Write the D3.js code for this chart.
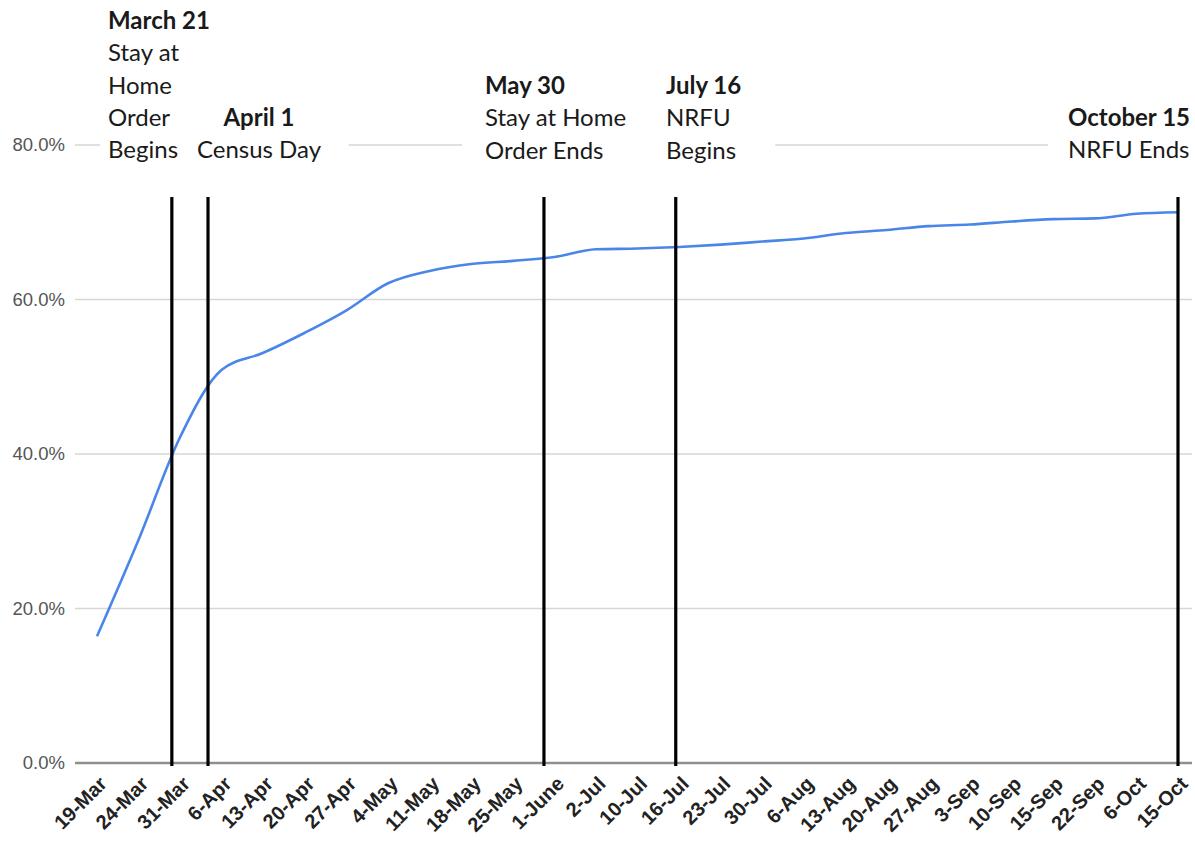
<!DOCTYPE html>
<html>
<head>
<meta charset="utf-8">
<script src="https://cdn.jsdelivr.net/npm/d3@7"></script>
<style>
body { margin: 0; background: #fff; }
</style>
</head>
<body>
<div id="chart"></div>
<script>
//////////////////////// Data ////////////////////////////

//Week labels along the x axis
var dates = ["19-Mar","24-Mar","31-Mar","6-Apr","13-Apr","20-Apr","27-Apr","4-May","11-May",
	"18-May","25-May","1-June","2-Jul","10-Jul","16-Jul","23-Jul","30-Jul","6-Aug","13-Aug",
	"20-Aug","27-Aug","3-Sep","10-Sep","15-Sep","22-Sep","6-Oct","15-Oct"];

//Self response rate (%)
var rate = [16.4, 28.9, 42.2, 50.9, 53.1, 55.7, 58.6, 62.1, 63.7,
	64.6, 65.0, 65.5, 66.5, 66.6, 66.8, 67.1, 67.5, 67.9, 68.6,
	69.0, 69.5, 69.7, 70.1, 70.4, 70.5, 71.1, 71.3];

var yTicks = [0, 20, 40, 60, 80];

//Key dates, placed in units of the x categories
var eventPos = [1.8, 2.67, 10.75, 13.92, 26];
var eventTitle = ["March 21", "April 1", "May 30", "July 16", "October 15"];
var eventText = [
	["Stay at", "Home", "Order", "Begins"],
	["Census Day"],
	["Stay at Home", "Order Ends"],
	["NRFU", "Begins"],
	["NRFU Ends"]
];

//////////////////////// Set-up ////////////////////////////

var width = 1195,
	height = 842;

var svg = d3.select("#chart").append("svg")
	.attr("width", width)
	.attr("height", height);

var x = d3.scaleLinear()
	.domain([0, dates.length - 1])
	.range([97, 1178]);

var y = d3.scaleLinear()
	.domain([0, 80])
	.range([763, 145]);

//Gridlines
svg.append("g").selectAll("line")
	.data(yTicks)
	.enter().append("line")
	.attr("x1", 75)
	.attr("x2", 1192)
	.attr("y1", function(d) { return y(d); })
	.attr("y2", function(d) { return y(d); })
	.style("stroke", function(d) { return d === 0 ? "#8f8f8f" : "#d6d6d6"; })
	.style("stroke-width", function(d) { return d === 0 ? 2.5 : 1.5; });

//Y axis labels
svg.append("g").selectAll("text")
	.data(yTicks)
	.enter().append("text")
	.attr("x", 65)
	.attr("y", function(d) { return y(d) + 6; })
	.attr("text-anchor", "end")
	.style("font-family", "Arial, 'Liberation Sans', sans-serif")
	.style("font-size", "18.5px")
	.style("fill", "#555")
	.text(function(d) { return d3.format(".1f")(d) + "%"; });

//X axis labels
svg.append("g").selectAll("text")
	.data(dates)
	.enter().append("text")
	.attr("transform", function(d, i) { return "translate(" + (x(i) + 11) + ",785) rotate(-45)"; })
	.attr("text-anchor", "end")
	.style("font-family", "Arial, 'Liberation Sans', sans-serif")
	.style("font-size", "20px")
	.style("font-weight", "bold")
	.style("fill", "#222")
	.text(function(d) { return d; });

//Response rate line
var line = d3.line()
	.x(function(d, i) { return x(i); })
	.y(function(d) { return y(d); })
	.curve(d3.curveMonotoneX);

svg.append("path")
	.datum(rate)
	.attr("d", line)
	.style("fill", "none")
	.style("stroke", "#4a86e8")
	.style("stroke-width", 2.6);

//Event lines
svg.append("g").selectAll("line")
	.data(eventPos)
	.enter().append("line")
	.attr("x1", function(d) { return x(d); })
	.attr("x2", function(d) { return x(d); })
	.attr("y1", 197)
	.attr("y2", 766)
	.style("stroke", "#000")
	.style("stroke-width", 3.2);

//Event annotations (layout of each text block)
var noteLayout = [
	{x: 108, anchor: "start", top: 29, padL: 8, padR: 6},
	{x: 259, anchor: "middle", top: 126, padL: 8, padR: 27},
	{x: 485, anchor: "start", top: 94, padL: 23, padR: 45},
	{x: 666, anchor: "start", top: 94, padL: 8, padR: 34},
	{x: 1068, anchor: "start", top: 126, padL: 20, padR: 10}
];
var lineStep = 32.3;

var notes = svg.append("g").selectAll("g")
	.data(eventTitle)
	.enter().append("g");

notes.each(function(d, i) {
	var g = d3.select(this),
		L = noteLayout[i],
		bg = g.append("rect").style("fill", "#fff");
	var t = g.append("text")
		.attr("text-anchor", L.anchor)
		.style("font-family", "Lato, 'Open Sans', sans-serif")
		.style("font-size", "24px")
		.style("fill", "#1a1a1a");
	t.append("tspan")
		.attr("x", L.x)
		.attr("y", L.top)
		.style("font-weight", "bold")
		.text(d);
	eventText[i].forEach(function(s, j) {
		t.append("tspan")
			.attr("x", L.x)
			.attr("y", L.top + (j + 1) * lineStep)
			.text(s);
	});
	var b = t.node().getBBox();
	bg.attr("x", b.x - L.padL)
		.attr("y", b.y - 4)
		.attr("width", b.width + L.padL + L.padR)
		.attr("height", b.height + 8);
});
</script>
</body>
</html>
